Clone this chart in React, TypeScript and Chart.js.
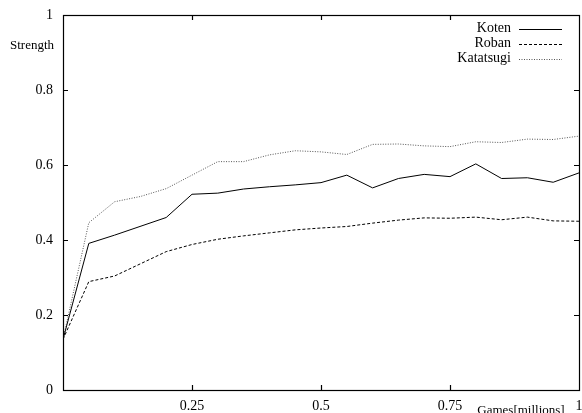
import React, { useEffect, useRef } from "react";
import { Chart, registerables } from "chart.js";

Chart.register(...registerables);

const games = [0, 0.05, 0.1, 0.15, 0.2, 0.25, 0.3, 0.35, 0.4, 0.45, 0.5, 0.55, 0.6, 0.65, 0.7, 0.75, 0.8, 0.85, 0.9, 0.95, 1.0];
const koten = [0.135, 0.391, 0.413, null, 0.46, 0.522, 0.525, 0.536, 0.542, 0.547, 0.553, 0.573, 0.539, 0.564, 0.575, 0.569, 0.603, 0.564, 0.566, 0.554, 0.579];
const roban = [0.135, 0.289, 0.304, null, 0.369, 0.388, 0.402, 0.411, 0.419, 0.427, 0.432, 0.436, 0.445, 0.453, 0.459, 0.458, 0.461, 0.454, 0.461, 0.451, 0.45];
const katatsugi = [0.135, 0.446, 0.502, 0.516, 0.537, 0.573, 0.609, 0.609, 0.627, 0.638, 0.635, 0.628, 0.655, 0.656, 0.651, 0.649, 0.662, 0.66, 0.669, 0.668, 0.677];
const seriesNames = ["Koten", "Roban", "Katatsugi"];
const yTitle = "Strength";
const xTitle = "Games[millions]";

const FONT = "'Liberation Serif', 'DejaVu Serif', serif";

function pts(vals: (number | null)[]) {
  return games.map((g, i) => ({ x: g, y: vals[i] }));
}

const framePlugin = {
  id: "gnuframe",
  afterDraw(chart: any) {
    const ctx = chart.ctx;
    const a = chart.chartArea;
    const xs = chart.scales.x;
    const ys = chart.scales.y;
    ctx.save();
    ctx.strokeStyle = "#000";
    ctx.lineWidth = 1.2;
    ctx.setLineDash([]);
    ctx.strokeRect(a.left + 0.5, a.top + 0.5, a.right - a.left, a.bottom - a.top);
    const L = 5;
    ctx.beginPath();
    xs.ticks.forEach((t: any) => {
      const px = Math.round(xs.getPixelForValue(t.value)) + 0.5;
      if (t.value <= 0 || t.value >= 1) return;
      ctx.moveTo(px, a.bottom);
      ctx.lineTo(px, a.bottom - L);
      ctx.moveTo(px, a.top);
      ctx.lineTo(px, a.top + L);
    });
    ys.ticks.forEach((t: any) => {
      const py = Math.round(ys.getPixelForValue(t.value)) + 0.5;
      if (t.value <= 0 || t.value >= 1) return;
      ctx.moveTo(a.left, py);
      ctx.lineTo(a.left + L, py);
      ctx.moveTo(a.right, py);
      ctx.lineTo(a.right - L, py);
    });
    ctx.stroke();

    // axis titles
    ctx.fillStyle = "#000";
    ctx.font = `13px ${FONT}`;
    ctx.textAlign = "center";
    ctx.textBaseline = "middle";
    ctx.fillText(yTitle, 32, 46);
    ctx.font = `13px ${FONT}`;
    ctx.fillText(xTitle, 521, 411);

    // legend
    ctx.font = `14px ${FONT}`;
    chart.data.datasets.forEach((ds: any, i: number) => {
      const y = 28.5 + 15 * i;
      ctx.fillStyle = "#000";
      ctx.textAlign = "right";
      ctx.textBaseline = "middle";
      ctx.fillText(ds.label, 511, y);
      ctx.strokeStyle = ds.borderColor;
      ctx.lineWidth = ds.borderWidth;
      ctx.setLineDash(ds.borderDash || []);
      ctx.beginPath();
      ctx.moveTo(519, Math.round(y) + 0.5);
      ctx.lineTo(562, Math.round(y) + 0.5);
      ctx.stroke();
    });
    ctx.restore();
  },
};

export default function App() {
  const ref = useRef<HTMLCanvasElement | null>(null);
  useEffect(() => {
    document.body.style.margin = "0";
    const canvas = ref.current!;
    const chart = new Chart(canvas, {
      type: "line",
      data: {
        datasets: [
          { label: seriesNames[0], data: pts(koten), borderColor: "#000", borderWidth: 1, borderDash: [], pointRadius: 0, spanGaps: true, tension: 0 },
          { label: seriesNames[1], data: pts(roban), borderColor: "#000", borderWidth: 1, borderDash: [3, 2], pointRadius: 0, spanGaps: true, tension: 0 },
          { label: seriesNames[2], data: pts(katatsugi), borderColor: "#555", borderWidth: 1, borderDash: [1, 1.5], pointRadius: 0, spanGaps: true, tension: 0 },
        ],
      } as any,
      options: {
        animation: false,
        responsive: false,
        devicePixelRatio: 1,
        layout: { padding: { top: 15, right: 3, bottom: 0, left: 0 } },
        plugins: { legend: { display: false }, tooltip: { enabled: false } },
        scales: {
          x: {
            type: "linear",
            min: 0,
            max: 1,
            grid: { display: false, drawTicks: false },
            border: { display: false },
            ticks: {
              stepSize: 0.25,
              autoSkip: false,
              maxRotation: 0,
              padding: 8,
              color: "#000",
              font: { family: FONT, size: 14 },
              callback: (v: any) => (v === 0 ? "" : String(v)),
            },
            afterFit: (s: any) => {
              s.height = 23;
              s.paddingLeft = 0;
              s.paddingRight = 0;
            },
          },
          y: {
            type: "linear",
            min: 0,
            max: 1,
            grid: { display: false, drawTicks: false },
            border: { display: false },
            ticks: {
              stepSize: 0.2,
              autoSkip: false,
              padding: 10,
              color: "#000",
              font: { family: FONT, size: 14 },
              callback: (v: any) => String(Math.round(v * 10) / 10),
            },
            afterFit: (s: any) => {
              s.width = 63;
              s.paddingTop = 0;
              s.paddingBottom = 0;
            },
          },
        },
      } as any,
      plugins: [framePlugin],
    });
    return () => chart.destroy();
  }, []);
  return <canvas ref={ref} width={582} height={413} style={{ display: "block" }} />;
}
